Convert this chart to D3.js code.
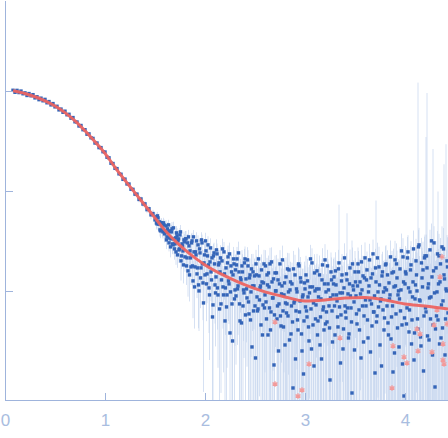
<!DOCTYPE html>
<html>
<head>
<meta charset="utf-8">
<style>
body { margin: 0; background: #fff; }
.axis path, .axis line { fill: none; stroke: #9fb4dc; shape-rendering: crispEdges; }
.axis text { fill: #a9bde0; font: 17px "Liberation Sans", Arial, sans-serif; }
</style>
</head>
<body>
<script src="https://cdn.jsdelivr.net/npm/d3@7"></script>
<script>
// low-q part: s (nm^-1), log10 I, log10 sigma
var qA = [0.08,0.10,0.12,0.14,0.16,0.18,0.20,0.22,0.24,0.26,0.28,0.30,0.32,0.34,0.36,0.38,0.40,0.42,0.44,0.46,0.48,0.50,
  0.52,0.54,0.56,0.58,0.60,0.62,0.64,0.66,0.68,0.70,0.72,0.74,0.76,0.78,0.80,0.82,0.84,0.86,0.88,0.90,0.92,0.94,0.96,0.98,
  1.00,1.02,1.04,1.06,1.08,1.10,1.12,1.14,1.16,1.18,1.20,1.22,1.24,1.26,1.28,1.30,1.32,1.34,1.36,1.38,1.40,1.42,1.44,1.46,1.48,1.50];
var logIA = [0.005,-0.015,0.004,-0.018,-0.003,-0.03,-0.021,-0.047,-0.028,-0.05,-0.039,-0.071,-0.06,-0.089,-0.074,-0.10,
  -0.086,-0.12,-0.108,-0.141,-0.128,-0.161,-0.155,-0.191,-0.183,-0.215,-0.204,-0.24,-0.235,-0.274,-0.268,-0.31,-0.312,-0.352,
  -0.347,-0.389,-0.389,-0.434,-0.431,-0.47,-0.476,-0.522,-0.522,-0.568,-0.568,-0.609,-0.612,-0.664,-0.67,-0.724,-0.727,-0.775,
  -0.778,-0.83,-0.834,-0.885,-0.883,-0.931,-0.932,-0.984,-0.985,-1.033,-1.033,-1.086,-1.081,-1.132,-1.13,-1.188,-1.179,-1.24,
  -1.227,-1.29];
var sigA = [-2.5,-2.6,-2.55,-2.62,-2.5,-2.58,-2.6,-2.52,-2.64,-2.55,-2.6,-2.5,-2.57,-2.62,-2.54,-2.6,-2.52,-2.58,-2.6,-2.5,
  -2.56,-2.61,-2.53,-2.58,-2.5,-2.6,-2.55,-2.52,-2.59,-2.5,-2.56,-2.48,-2.55,-2.5,-2.46,-2.53,-2.48,-2.44,-2.5,-2.45,-2.42,
  -2.48,-2.4,-2.45,-2.42,-2.38,-2.44,-2.4,-2.36,-2.42,-2.38,-2.35,-2.4,-2.36,-2.33,-2.38,-2.34,-2.31,-2.36,-2.32,-2.3,-2.34,
  -2.3,-2.28,-2.32,-2.29,-2.26,-2.3,-2.27,-2.25,-2.28,-2.26];

// high-q part, frames on the 0.01 grid
var qB = [1.51,1.52,1.53,1.54,1.55,1.56,1.57,1.58,1.59,1.60,1.61,1.62,1.63,1.64,1.65,1.66,1.67,1.68,1.69,1.70,
  1.71,1.72,1.73,1.74,1.75,1.76,1.77,1.78,1.79,1.80,1.81,1.82,1.83,1.84,1.85,1.86,1.87,1.88,1.89,1.90,
  1.91,1.92,1.93,1.94,1.95,1.96,1.97,1.98,1.99,2.00,2.01,2.02,2.03,2.04,2.05,2.06,2.07,2.08,2.09,2.10,
  2.11,2.12,2.13,2.14,2.15,2.16,2.17,2.18,2.19,2.20,2.21,2.22,2.23,2.24,2.25,2.26,2.27,2.28,2.29,2.30,
  2.31,2.32,2.33,2.34,2.35,2.36,2.37,2.38,2.39,2.40,2.41,2.42,2.43,2.44,2.45,2.46,2.47,2.48,2.49,2.50,
  2.51,2.52,2.53,2.54,2.55,2.56,2.57,2.58,2.59,2.60,2.61,2.62,2.63,2.64,2.65,2.66,2.67,2.68,2.69,2.70,
  2.71,2.72,2.73,2.74,2.75,2.76,2.77,2.78,2.79,2.80,2.81,2.82,2.83,2.84,2.85,2.86,2.87,2.88,2.89,2.90,
  2.91,2.92,2.93,2.94,2.95,2.96,2.97,2.98,2.99,3.00,3.01,3.02,3.03,3.04,3.05,3.06,3.07,3.08,3.09,3.10,
  3.11,3.12,3.13,3.14,3.15,3.16,3.17,3.18,3.19,3.20,3.21,3.22,3.23,3.24,3.25,3.26,3.27,3.28,3.29,3.30,
  3.31,3.32,3.33,3.34,3.35,3.36,3.37,3.38,3.39,3.40,3.41,3.42,3.43,3.44,3.45,3.46,3.47,3.48,3.49,3.50,
  3.51,3.52,3.53,3.54,3.55,3.56,3.57,3.58,3.59,3.60,3.61,3.62,3.63,3.64,3.65,3.66,3.67,3.68,3.69,3.70,
  3.71,3.72,3.73,3.74,3.75,3.76,3.77,3.78,3.79,3.80,3.81,3.82,3.83,3.84,3.85,3.86,3.87,3.88,3.89,3.90,
  3.91,3.92,3.93,3.94,3.95,3.96,3.97,3.98,3.99,4.00,4.01,4.02,4.03,4.04,4.05,4.06,4.07,4.08,4.09,4.10,
  4.11,4.12,4.13,4.14,4.15,4.16,4.17,4.18,4.19,4.20,4.21,4.22,4.23,4.24,4.25,4.26,4.27,4.28,4.29,4.30,
  4.31,4.32,4.33,4.34,4.35,4.36,4.37,4.38,4.39,4.40,4.41,4.42,4.43];
var logIB = [
  -1.26,-1.33,-1.27,-1.33,-1.39,-1.32,-1.35,-1.41,-1.34,-1.42,
  -1.35,-1.46,-1.41,-1.52,-1.40,-1.48,-1.38,-1.54,-1.48,-1.53,
  -1.61,-1.45,-1.50,-1.59,-1.44,-1.70,-1.53,-1.60,-1.49,-1.66,
  -1.48,-1.67,-1.80,-1.55,-1.60,-1.76,-1.50,-1.90,-1.61,-1.76,
  -1.64,-1.83,-1.54,-2.00,-1.62,-1.77,-1.52,-1.92,-1.72,-1.84,
  -1.60,-1.83,-1.54,-1.97,-1.71,-1.81,-1.67,-2.14,-1.62,-1.94,
  -1.86,-1.63,-2.04,-1.72,-1.81,-2.13,-1.70,-1.96,-1.61,-2.30,
  -1.77,-2.04,-1.66,-1.93,-2.42,-1.75,-2.13,-1.84,-1.73,-1.99,
  -2.05,-1.68,-1.95,-1.81,-2.30,-1.89,-1.75,-2.15,-2.02,-1.68,
  -1.88,-2.07,-1.75,-2.23,-1.84,-2.01,-2.56,-1.81,-1.95,-2.15,
  -1.73,-2.06,-2.18,-1.85,-1.97,-2.34,-1.91,-2.14,-1.73,-2.04,
  -2.11,-1.84,-2.44,-1.96,-1.73,-2.21,-1.91,-2.07,-2.74,-1.82,
  -2.00,-2.28,-1.89,-2.13,-1.73,-2.35,-1.95,-2.20,-2.04,-2.54,
  -1.86,-2.13,-2.25,-1.79,-1.99,-2.43,-1.93,-2.97,-2.12,-1.84,
  -2.20,-2.01,-2.39,-1.75,-2.10,-1.91,-2.60,-2.04,-2.30,-1.98,
  -1.84,-2.26,-2.06,-2.50,-1.96,-2.18,-1.72,-2.34,-2.75,-2.00,
  -2.14,-1.80,-2.30,-1.98,-2.54,-2.08,-1.89,-2.19,-2.39,-1.69,
  -2.01,-2.31,-1.93,-2.15,-2.89,-1.81,-2.20,-2.04,-1.86,-2.44,
  -1.94,-2.10,-2.36,-1.72,-2.02,-2.24,-1.84,-2.58,-1.97,-2.15,
  -2.27,-1.89,-2.03,-2.43,-1.77,-2.17,-3.02,-1.95,-2.11,-1.81,
  -2.05,-2.33,-1.73,-2.19,-1.91,-2.67,-1.99,-1.85,-2.25,-1.67,
  -2.15,-1.79,-2.47,-1.95,-2.09,-1.87,-2.35,-1.63,-2.21,-2.82,
  -1.91,-2.25,-2.01,-1.76,-2.54,-2.08,-1.85,-2.19,-2.39,-1.97,
  -1.73,-2.15,-2.32,-1.92,-2.04,-2.48,-1.82,-2.81,-1.96,-1.69,
  -2.23,-1.87,-2.04,-2.56,-1.78,-1.99,-2.34,-1.66,-3.05,-1.93,
  -1.83,-2.17,-1.61,-2.41,-2.01,-1.74,-2.29,-1.91,-2.69,-2.08,
  -1.70,-2.00,-2.38,-1.54,-2.10,-2.55,-1.87,-1.79,-2.25,-1.65,
  -2.21,-1.77,-1.97,-2.49,-1.59,-2.06,-1.86,-2.34,-1.52,-2.96,
  -1.77,-2.01,-2.29,-1.65,-1.91,-2.47,-1.56,-2.10,-1.84,-2.64,-1.98,-1.70,-2.22];
var sigB = [
  -2.25,-2.22,-2.28,-2.2,-2.24,-2.3,-2.18,-2.26,-2.21,-2.23,
  -2.2,-2.24,-2.17,-2.27,-2.2,-2.22,-2.15,-2.25,-2.19,-2.21,
  -2.2,-2.16,-2.23,-2.18,-2.21,-2.14,-2.2,-2.25,-2.17,-2.2,
  -2.18,-2.22,-2.15,-2.2,-2.17,-2.23,-2.19,-2.14,-2.21,-2.18,
  -2.17,-2.2,-2.15,-2.22,-2.18,-2.13,-2.2,-2.16,-2.19,-2.17,
  -2.18,-2.14,-2.2,-2.16,-2.19,-2.12,-2.18,-2.15,-2.2,-2.17,
  -2.16,-2.2,-2.13,-2.18,-2.15,-2.19,-2.12,-2.17,-2.2,-2.14,
  -2.17,-2.13,-2.19,-2.15,-2.12,-2.18,-2.14,-2.2,-2.16,-2.13,
  -2.15,-2.18,-2.12,-2.16,-2.14,-2.19,-2.11,-2.17,-2.13,-2.16,
  -2.14,-2.17,-2.11,-2.15,-2.18,-2.12,-2.16,-2.1,-2.15,-2.13,
  -2.15,-2.1,-2.16,-2.13,-2.17,-2.11,-2.14,-2.09,-2.15,-2.12,
  -2.13,-2.16,-2.1,-2.14,-2.08,-2.15,-2.12,-2.16,-2.1,-2.13,
  -2.12,-2.15,-2.09,-2.13,-2.16,-2.1,-2.14,-2.08,-2.12,-2.15,
  -2.11,-2.14,-2.08,-2.12,-2.15,-2.09,-2.13,-2.1,-2.14,-2.07,
  -2.12,-2.09,-2.14,-2.08,-2.11,-2.15,-2.07,-2.12,-2.1,-2.13,
  -2.1,-2.13,-2.07,-2.11,-2.14,-2.08,-2.12,-2.06,-2.11,-2.09,
  -2.09,-2.12,-2.06,-2.1,-2.13,-2.07,-2.11,-2.08,-2.12,-2.05,
  -2.08,-2.11,-2.05,-2.09,-2.12,-2.06,-2.1,-2.07,-2.11,-2.04,
  -2.07,-2.1,-2.04,-1.27,-2.08,-2.11,-2.05,-2.09,-2.06,-2.1,
  -2.06,-1.33,-2.03,-2.08,-2.05,-2.09,-1.51,-2.04,-2.07,-2.02,
  -2.05,-2.02,-2.07,-2.03,-2.06,-2.01,-2.05,-2.08,-2.03,-2.04,
  -2.04,-2.07,-2.01,-2.05,-2.03,-2.06,-2.0,-2.04,-2.02,-2.05,
  -1.17,-2.02,-2.05,-1.99,-2.03,-2.0,-2.04,-1.98,-2.02,-2.01,
  -2.0,-1.97,-2.02,-1.98,-2.01,-1.96,-2.0,-1.97,-1.99,-1.95,
  -1.96,-1.93,-1.98,-1.94,-1.97,-1.92,-1.95,-1.93,-1.96,-1.9,
  -1.92,-1.89,-1.94,-1.9,-1.93,-1.88,-1.91,-1.87,-1.92,-1.89,
  -1.88,-1.85,0.08,-1.86,-1.9,-1.84,-1.87,-1.83,-1.88,-1.85,
  -0.47,-0.03,-1.84,-1.87,-1.82,-1.86,-1.83,-0.59,-1.85,-1.81,
  -1.84,-1.8,-1.03,-1.83,-1.79,-1.82,-1.78,-1.81,-0.77,-1.8,-0.55,-1.79,-1.82];

// high-q part, frames in between
var qC = [1.515,1.525,1.535,1.545,1.555,1.565,1.575,1.585,1.595,1.605,1.615,1.625,1.635,1.645,1.655,1.665,1.675,1.685,1.695,1.705,
  1.715,1.725,1.735,1.745,1.755,1.765,1.775,1.785,1.795,1.805,1.815,1.825,1.835,1.845,1.855,1.865,1.875,1.885,1.895,1.905,
  1.915,1.925,1.935,1.945,1.955,1.965,1.975,1.985,1.995,2.005,2.015,2.025,2.035,2.045,2.055,2.065,2.075,2.085,2.095,2.105,
  2.115,2.125,2.135,2.145,2.155,2.165,2.175,2.185,2.195,2.205,2.215,2.225,2.235,2.245,2.255,2.265,2.275,2.285,2.295,2.305,
  2.315,2.325,2.335,2.345,2.355,2.365,2.375,2.385,2.395,2.405,2.415,2.425,2.435,2.445,2.455,2.465,2.475,2.485,2.495,2.505,
  2.515,2.525,2.535,2.545,2.555,2.565,2.575,2.585,2.595,2.605,2.615,2.625,2.635,2.645,2.655,2.665,2.675,2.685,2.695,2.705,
  2.715,2.725,2.735,2.745,2.755,2.765,2.775,2.785,2.795,2.805,2.815,2.825,2.835,2.845,2.855,2.865,2.875,2.885,2.895,2.905,
  2.915,2.925,2.935,2.945,2.955,2.965,2.975,2.985,2.995,3.005,3.015,3.025,3.035,3.045,3.055,3.065,3.075,3.085,3.095,3.105,
  3.115,3.125,3.135,3.145,3.155,3.165,3.175,3.185,3.195,3.205,3.215,3.225,3.235,3.245,3.255,3.265,3.275,3.285,3.295,3.305,
  3.315,3.325,3.335,3.345,3.355,3.365,3.375,3.385,3.395,3.405,3.415,3.425,3.435,3.445,3.455,3.465,3.475,3.485,3.495,3.505,
  3.515,3.525,3.535,3.545,3.555,3.565,3.575,3.585,3.595,3.605,3.615,3.625,3.635,3.645,3.655,3.665,3.675,3.685,3.695,3.705,
  3.715,3.725,3.735,3.745,3.755,3.765,3.775,3.785,3.795,3.805,3.815,3.825,3.835,3.845,3.855,3.865,3.875,3.885,3.895,3.905,
  3.915,3.925,3.935,3.945,3.955,3.965,3.975,3.985,3.995,4.005,4.015,4.025,4.035,4.045,4.055,4.065,4.075,4.085,4.095,4.105,
  4.115,4.125,4.135,4.145,4.155,4.165,4.175,4.185,4.195,4.205,4.215,4.225,4.235,4.245,4.255,4.265,4.275,4.285,4.295,4.305,
  4.315,4.325,4.335,4.345,4.355,4.365,4.375,4.385,4.395,4.405,4.415,4.425];
var logIC = [
  -1.32,-1.25,-1.33,-1.31,-1.40,-1.32,-1.39,-1.32,-1.43,-1.40,
  -1.49,-1.38,-1.34,-1.47,-1.56,-1.41,-1.53,-1.37,-1.58,-1.47,
  -1.42,-1.64,-1.48,-1.58,-1.41,-1.65,-1.55,-1.74,-1.51,-1.48,
  -1.75,-1.52,-1.46,-1.84,-1.67,-1.52,-1.75,-1.46,-1.96,-1.61,
  -1.50,-1.77,-1.94,-1.58,-1.87,-1.49,-1.73,-2.12,-1.64,-1.50,
  -1.93,-1.65,-1.74,-2.04,-1.57,-1.89,-2.26,-1.65,-1.73,-2.02,
  -1.59,-1.97,-1.74,-2.18,-1.67,-1.89,-1.58,-2.04,-1.83,-1.97,
  -2.16,-1.72,-1.90,-1.63,-2.01,-1.81,-2.50,-1.68,-2.08,-1.79,
  -1.74,-1.98,-1.62,-2.13,-1.87,-2.32,-1.81,-1.99,-1.72,-2.24,
  -1.98,-1.69,-2.11,-1.87,-2.29,-1.78,-1.95,-2.20,-1.85,-2.67,
  -1.84,-2.20,-1.68,-2.09,-1.95,-1.79,-2.44,-1.92,-2.17,-1.75,
  -2.28,-1.94,-1.82,-2.17,-2.39,-1.71,-2.07,-1.88,-2.24,-2.00,
  -1.82,-2.15,-2.60,-1.93,-2.25,-2.03,-1.69,-2.36,-1.92,-2.12,
  -2.22,-1.78,-2.01,-2.49,-1.91,-2.15,-2.31,-1.78,-2.10,-2.68,
  -1.98,-2.29,-1.73,-2.21,-1.87,-2.43,-2.06,-2.83,-1.92,-2.16,
  -2.20,-1.90,-2.36,-2.02,-1.68,-2.58,-1.96,-2.12,-1.82,-2.28,
  -1.98,-2.44,-2.06,-1.84,-2.26,-2.68,-1.74,-2.16,-1.93,-2.33,
  -2.21,-1.75,-1.99,-2.37,-2.07,-1.89,-2.51,-1.93,-2.15,-1.80,
  -2.04,-2.26,-1.78,-2.16,-2.72,-1.90,-2.02,-2.38,-1.67,-2.21,
  -1.83,-2.17,-2.47,-1.93,-2.05,-2.31,-1.73,-1.99,-2.59,-1.91,
  -2.23,-1.95,-1.81,-2.39,-2.03,-1.71,-2.15,-2.51,-1.87,-2.09,
  -1.89,-2.29,-2.01,-1.69,-2.61,-2.13,-1.83,-2.21,-2.05,-1.77,
  -2.31,-1.67,-2.16,-1.94,-2.10,-2.75,-1.81,-2.01,-2.27,-1.74,
  -1.99,-1.84,-2.44,-2.08,-1.66,-2.26,-2.15,-1.81,-2.62,-1.95,
  -1.73,-2.37,-2.00,-2.08,-2.20,-1.60,-2.73,-1.91,-2.27,-1.81,
  -2.33,-1.67,-1.97,-2.19,-1.79,-2.53,-2.06,-1.58,-2.42,-1.94,
  -1.84,-2.28,-1.56,-2.09,-2.46,-1.72,-1.96,-2.80,-1.67,-2.17,
  -1.65,-2.45,-1.93,-2.07,-2.28,-1.50,-2.64,-1.80,-2.02,-2.38,
  -2.25,-1.63,-1.93,-2.53,-1.73,-2.14,-2.37,-1.58,-1.88,-2.28,-2.00,-1.76];
var sigC = [
  -2.22,-2.27,-2.19,-2.24,-2.21,-2.26,-2.2,-2.23,-2.18,-2.25,
  -2.21,-2.18,-2.25,-2.2,-2.23,-2.17,-2.22,-2.19,-2.24,-2.2,
  -2.19,-2.23,-2.17,-2.21,-2.18,-2.24,-2.16,-2.2,-2.22,-2.18,
  -2.2,-2.16,-2.22,-2.18,-2.21,-2.15,-2.19,-2.23,-2.17,-2.2,
  -2.16,-2.19,-2.14,-2.2,-2.17,-2.21,-2.15,-2.18,-2.13,-2.19,
  -2.17,-2.13,-2.19,-2.15,-2.18,-2.14,-2.2,-2.16,-2.12,-2.17,
  -2.15,-2.18,-2.13,-2.17,-2.14,-2.19,-2.16,-2.12,-2.18,-2.15,
  -2.14,-2.17,-2.12,-2.16,-2.19,-2.13,-2.15,-2.18,-2.12,-2.16,
  -2.16,-2.12,-2.15,-2.18,-2.13,-2.17,-2.11,-2.15,-2.14,-2.12,
  -2.13,-2.16,-2.11,-2.15,-2.12,-2.17,-2.14,-2.1,-2.16,-2.13,
  -2.12,-2.15,-2.1,-2.14,-2.11,-2.16,-2.13,-2.09,-2.14,-2.11,
  -2.14,-2.1,-2.13,-2.09,-2.15,-2.11,-2.08,-2.13,-2.1,-2.14,
  -2.11,-2.14,-2.09,-2.12,-2.08,-2.13,-2.1,-2.15,-2.09,-2.12,
  -2.1,-2.13,-2.08,-2.11,-2.14,-2.09,-2.12,-2.07,-2.11,-2.13,
  -2.09,-2.12,-2.07,-2.11,-2.08,-2.13,-2.1,-2.06,-2.12,-2.09,
  -2.11,-2.08,-2.12,-2.06,-2.1,-2.07,-2.11,-2.05,-2.09,-2.08,
  -2.08,-2.11,-2.06,-2.09,-2.05,-2.1,-2.07,-2.11,-2.06,-2.08,
  -2.07,-2.1,-2.05,-2.08,-2.11,-2.06,-2.09,-2.04,-2.08,-2.07,
  -2.06,-2.09,-2.04,-2.07,-2.1,-2.05,-2.08,-2.03,-2.07,-2.06,
  -2.05,-2.08,-2.03,-2.06,-2.09,-2.04,-2.07,-2.02,-2.06,-2.05,
  -2.04,-2.07,-2.02,-2.05,-2.08,-2.03,-2.06,-2.01,-2.05,-2.04,
  -2.03,-2.06,-2.01,-2.04,-2.07,-2.02,-2.05,-2.0,-2.04,-2.03,
  -2.02,-2.05,-2.0,-2.03,-2.06,-2.01,-2.04,-1.99,-2.03,-2.01,
  -1.99,-1.96,-2.01,-1.97,-2.0,-1.95,-1.99,-1.96,-1.98,-1.95,
  -1.95,-1.92,-1.97,-1.93,-1.96,-1.91,-1.94,-1.92,-1.95,-1.9,
  -1.91,-1.88,-1.93,-1.89,-1.92,-1.87,-1.9,-1.86,-1.91,-1.88,
  -1.87,-1.84,-1.88,-1.85,-1.89,-1.83,-1.86,-1.84,-1.87,-1.83,
  -1.85,-1.82,-1.86,-1.83,-1.87,-1.81,-1.84,-1.82,-1.85,-1.8,
  -1.83,-1.79,-1.84,-1.8,-1.82,-1.78,-1.81,-1.79,-1.83,-1.78,-1.8,-1.77];

// points drawn in red
var redQ = [2.70,2.70,2.93,2.97,3.04,3.35,3.87,3.88,3.99,4.02,4.12,4.13,4.15,4.27,4.29,4.32,4.35,4.37,4.38,4.38,4.39,4.42];
var redLogI = [-2.31,-2.93,-3.05,-2.99,-2.73,-2.47,-2.97,-2.55,-2.66,-2.72,-2.38,-2.60,-2.43,-2.61,-2.34,-2.19,-1.86,-1.66,-2.53,-2.69,-2.73,-2.33];

// fitted curve
var fitQ = [0.08,0.2,0.3,0.4,0.5,0.6,0.7,0.8,0.9,1.0,1.1,1.2,1.3,1.4,1.5,1.6,1.7,1.8,1.9,2.0,2.2,2.4,2.6,2.8,3.0,3.2,3.4,3.6,3.8,4.0,4.2,4.43];
var fitLogI = [0.0,-0.027,-0.06,-0.10,-0.152,-0.218,-0.30,-0.40,-0.51,-0.625,-0.765,-0.895,-1.02,-1.145,-1.27,-1.395,-1.50,
  -1.59,-1.67,-1.74,-1.85,-1.94,-2.01,-2.06,-2.10,-2.09,-2.07,-2.065,-2.09,-2.13,-2.15,-2.18];

var yTicks = [1, 0.1, 0.01];
var xTicks = [0, 1, 2, 3, 4];

var W = 448, H = 438,
    plotLeft = 5, plotRight = 448, plotTop = 0, plotBottom = 400;

var x = d3.scaleLinear().domain([0, 4.43]).range([plotLeft, plotRight]);
var y = d3.scaleLog().domain([Math.pow(10, -3.09), Math.pow(10, 0.907)]).range([plotBottom, plotTop]);

var svg = d3.select("body").append("svg")
    .attr("width", W)
    .attr("height", H)
    .style("display", "block");

svg.append("clipPath").attr("id", "clip")
  .append("rect").attr("x", plotLeft).attr("y", plotTop)
    .attr("width", plotRight - plotLeft).attr("height", plotBottom - plotTop);

var pts = [];
function addSet(qs, li, si) {
  qs.forEach(function(q, i) { pts.push({q: q, i: Math.pow(10, li[i]), s: Math.pow(10, si[i])}); });
}
addSet(qA, logIA, sigA);
addSet(qB, logIB, sigB);
addSet(qC, logIC, sigC);

var plot = svg.append("g").attr("clip-path", "url(#clip)");

plot.selectAll(".err")
    .data(pts)
  .enter().append("line")
    .attr("class", "err")
    .attr("x1", function(d) { return x(d.q); })
    .attr("x2", function(d) { return x(d.q); })
    .attr("y1", function(d) { return y(d.i + d.s); })
    .attr("y2", function(d) { return d.i - d.s > 0 ? y(d.i - d.s) : plotBottom; })
    .style("stroke", "#c6d5ef")
    .style("stroke-width", 1)
    .style("opacity", 0.7);

plot.selectAll(".dot")
    .data(pts)
  .enter().append("rect")
    .attr("class", "dot")
    .attr("x", function(d) { return x(d.q) - 1.7; })
    .attr("y", function(d) { return y(d.i) - 1.7; })
    .attr("width", 3.4)
    .attr("height", 3.4)
    .style("fill", "#3565b8");

var ast = d3.symbol().type(d3.symbolAsterisk).size(22);
plot.selectAll(".red")
    .data(redQ)
  .enter().append("path")
    .attr("class", "red")
    .attr("d", ast)
    .attr("transform", function(d, i) { return "translate(" + x(d) + "," + y(Math.pow(10, redLogI[i])) + ")"; })
    .style("fill", "none")
    .style("stroke", "#f29a9a")
    .style("stroke-width", 1.3);

var line = d3.line()
    .curve(d3.curveMonotoneX)
    .x(function(d) { return x(d[0]); })
    .y(function(d) { return y(Math.pow(10, d[1])); });

plot.append("path")
    .datum(fitQ.map(function(q, i) { return [q, fitLogI[i]]; }))
    .attr("d", line)
    .style("fill", "none")
    .style("stroke", "#ec6461")
    .style("stroke-width", 3)
    .style("opacity", 0.95);

svg.append("g")
    .attr("class", "x axis")
    .attr("transform", "translate(0," + plotBottom + ")")
    .call(d3.axisBottom(x).tickValues(xTicks).tickFormat(d3.format("d"))
      .tickSizeInner(-7).tickSizeOuter(0).tickPadding(14));

svg.append("g")
    .attr("class", "y axis")
    .attr("transform", "translate(" + plotLeft + ",0)")
    .call(d3.axisLeft(y).tickValues(yTicks).tickFormat("")
      .tickSizeInner(-8).tickSizeOuter(0));
</script>
</body>
</html>
